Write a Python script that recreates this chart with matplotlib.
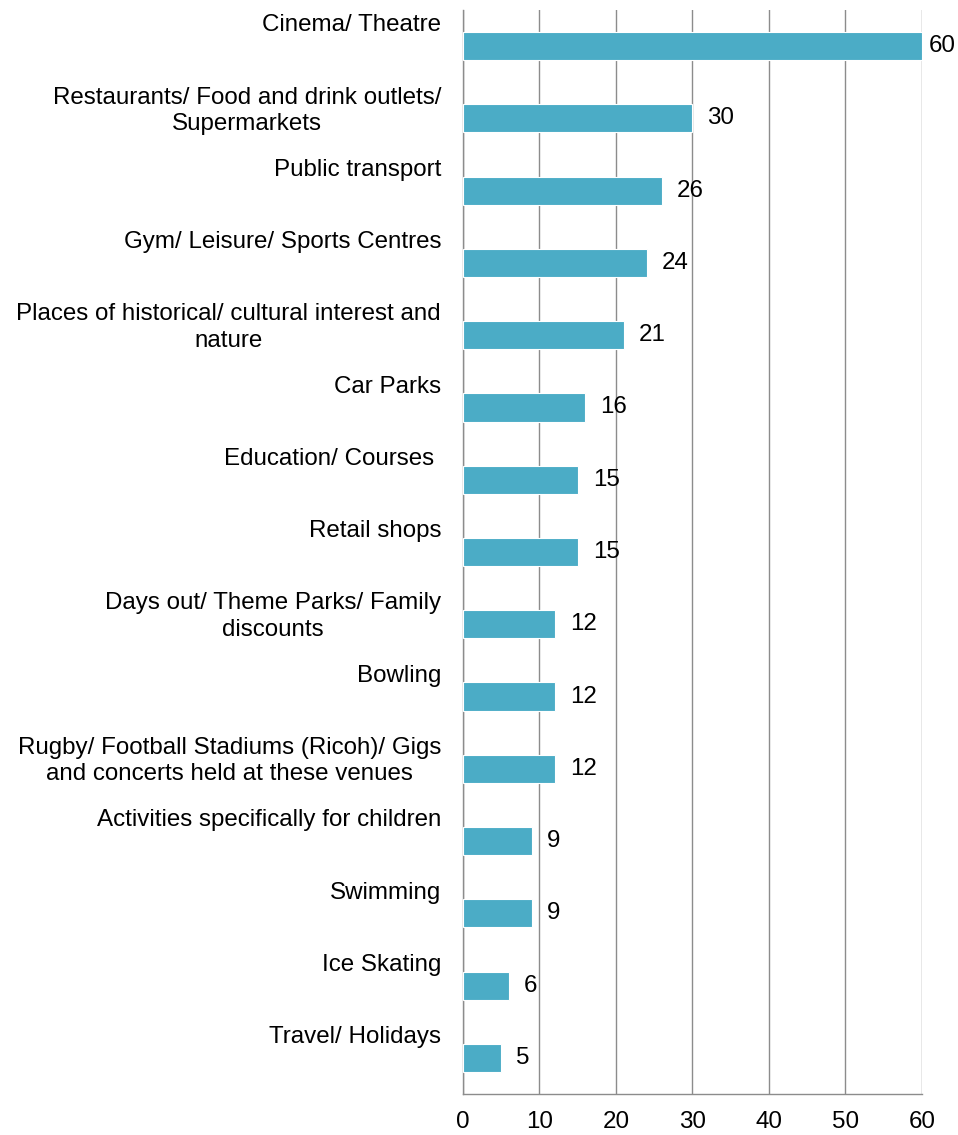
import matplotlib
matplotlib.use("Agg")
import matplotlib.pyplot as plt
import matplotlib.transforms as mtransforms

plt.rcParams['font.family'] = ['Liberation Sans', 'DejaVu Sans']

categories = [
    "Cinema/ Theatre",
    "Restaurants/ Food and drink outlets/\nSupermarkets",
    "Public transport",
    "Gym/ Leisure/ Sports Centres",
    "Places of historical/ cultural interest and\nnature",
    "Car Parks",
    "Education/ Courses ",
    "Retail shops",
    "Days out/ Theme Parks/ Family\ndiscounts",
    "Bowling",
    "Rugby/ Football Stadiums (Ricoh)/ Gigs\nand concerts held at these venues",
    "Activities specifically for children",
    "Swimming",
    "Ice Skating",
    "Travel/ Holidays",
]
values = [60, 30, 26, 24, 21, 16, 15, 15, 12, 12, 12, 9, 9, 6, 5]
xticks = [0, 10, 20, 30, 40, 50, 60]

FS = 17.4
BAR_COLOR = "#4BACC6"
GRID_COLOR = "#8C8C8C"

fig = plt.figure(figsize=(9.58, 11.35), dpi=100)
ax = fig.add_axes([0.4833, 0.0361, 0.9624 - 0.4833, 0.9912 - 0.0361])

y = list(range(len(categories)))
ax.barh(y, values, height=0.39, color=BAR_COLOR, edgecolor="white", linewidth=0.8, zorder=3)

ax.set_xlim(0, 60)
ax.set_ylim(len(categories) - 0.5, -0.5)
ax.set_xticks(xticks)
ax.set_xticklabels([str(t) for t in xticks], fontsize=FS, color="black")
ax.tick_params(axis="x", length=0, pad=12)
ax.set_yticks([])
ax.xaxis.grid(True, color=GRID_COLOR, linewidth=1.0, zorder=0)
ax.set_axisbelow(True)

for s in ["top", "right"]:
    ax.spines[s].set_visible(False)
ax.spines["left"].set_color(GRID_COLOR)
ax.spines["bottom"].set_color(GRID_COLOR)
ax.spines["left"].set_linewidth(1.0)
ax.spines["bottom"].set_linewidth(1.0)

# category labels: top-aligned near top of each slot, right aligned left of axis
trans = mtransforms.blended_transform_factory(ax.transAxes, ax.transData)
off = mtransforms.ScaledTranslation(-22 / 100, 0, fig.dpi_scale_trans)
for i, lab in enumerate(categories):
    ax.text(0, i - 0.5 + 0.06, lab, transform=trans + off, ha="right", va="top",
            fontsize=FS, multialignment="center", linespacing=1.25)

# data labels
vmax = max(values)
for i, v in enumerate(values):
    dx = 7 if v == vmax else 15
    ax.annotate(str(v), xy=(v, i), xytext=(dx * 72 / 100, 0), textcoords="offset points",
                ha="left", va="center", fontsize=FS, color="black")

fig.savefig("out.png", dpi=100)
